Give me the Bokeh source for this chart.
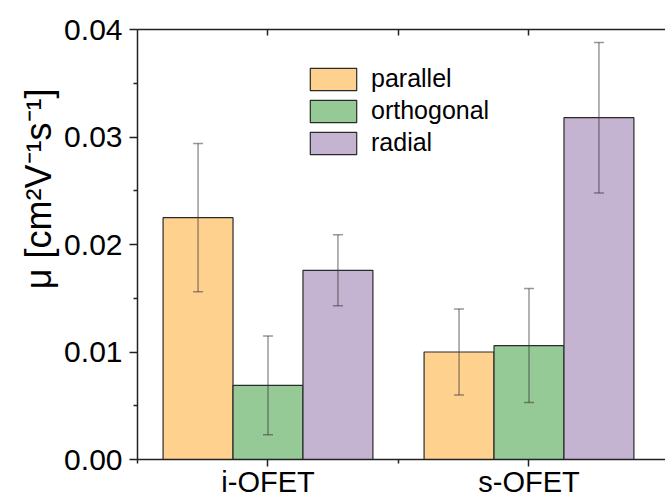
import numpy as np
from bokeh.plotting import figure
from bokeh.models import (ColumnDataSource, FixedTicker, LinearAxis, Whisker, TeeHead,
                          Legend, LegendItem, Range1d, PrintfTickFormatter, Title)
from bokeh.embed import file_html
from bokeh.resources import INLINE

devices = ["i-OFET", "s-OFET"]
orientations = ["parallel", "orthogonal", "radial"]
colors = ["#FFD18F", "#95C995", "#C4B3D1"]
mean_parallel = [0.0225, 0.0100]
mean_orthogonal = [0.0069, 0.0106]
mean_radial = [0.0176, 0.0318]
err_parallel = [0.0069, 0.0040]
err_orthogonal = [0.0046, 0.0053]
err_radial = [0.0033, 0.0070]
y_ticks = [0.00, 0.01, 0.02, 0.03, 0.04]
y_minor = [0.005, 0.015, 0.025, 0.035]

FONT = "Liberation Sans"
means = [mean_parallel, mean_orthogonal, mean_radial]
errs = [err_parallel, err_orthogonal, err_radial]
bar_w = 0.268
offsets = [-bar_w, 0.0, bar_w]
centers = np.arange(1, len(devices) + 1)

p = figure(width=665, height=500, output_backend="svg", toolbar_location=None,
           x_range=Range1d(0.5, 2.523), y_range=Range1d(0, 0.04),
           min_border_left=137, min_border_top=29, min_border_bottom=39, min_border_right=0)
p.outline_line_color = None
p.xgrid.visible = False
p.ygrid.visible = False
p.background_fill_color = "white"
p.border_fill_color = "white"

items = []
for name, col, m, e, off in zip(orientations, colors, means, errs, offsets):
    xs = centers + off
    src = ColumnDataSource(dict(x=xs, top=m, upper=np.array(m) + np.array(e),
                                lower=np.array(m) - np.array(e)))
    r = p.vbar(x="x", top="top", width=bar_w, bottom=0, source=src,
               fill_color=col, line_color="#2a2a2a", line_width=1.2)
    items.append(LegendItem(label=name, renderers=[r]))
    w = Whisker(base="x", upper="upper", lower="lower", source=src, level="overlay",
                line_color="#333333", line_alpha=0.5, line_width=1.5,
                upper_head=TeeHead(size=10, line_color="#333333", line_alpha=0.5, line_width=1.5),
                lower_head=TeeHead(size=10, line_color="#333333", line_alpha=0.5, line_width=1.5))
    p.add_layout(w)

xt = FixedTicker(ticks=list(centers), minor_ticks=[0.5, 1.5])
yt = FixedTicker(ticks=y_ticks, minor_ticks=y_minor)

for ax in p.xaxis:
    ax.ticker = xt
    ax.major_label_overrides = {int(c): d for c, d in zip(centers, devices)}
    ax.major_label_text_font = FONT
    ax.major_label_text_font_size = "29px"
    ax.major_label_text_color = "black"
    ax.major_tick_out = 7
    ax.major_tick_in = 0
    ax.minor_tick_out = 4
    ax.minor_tick_in = 0
    ax.major_label_standoff = -1
    ax.axis_line_width = 1.5
    ax.major_tick_line_width = 1.5
    ax.minor_tick_line_width = 1.5
    ax.axis_line_color = "#222222"
    ax.major_tick_line_color = "#222222"
    ax.minor_tick_line_color = "#222222"

for ax in p.yaxis:
    ax.ticker = yt
    ax.formatter = PrintfTickFormatter(format="%.2f")
    ax.major_label_text_font = FONT
    ax.major_label_text_font_size = "30px"
    ax.major_label_text_color = "black"
    ax.major_tick_out = 8
    ax.major_tick_in = 0
    ax.minor_tick_out = 4
    ax.minor_tick_in = 0
    ax.major_label_standoff = 7
    ax.axis_line_width = 1.5
    ax.major_tick_line_width = 1.5
    ax.minor_tick_line_width = 1.5
    ax.axis_line_color = "#222222"
    ax.major_tick_line_color = "#222222"
    ax.minor_tick_line_color = "#222222"

# mirrored top frame line with inward ticks only (no labels)
top_ticker = FixedTicker(ticks=[], minor_ticks=[1.0, 1.5, 2.0])
top_ax = LinearAxis(ticker=top_ticker, major_tick_in=0, major_tick_out=0,
                    minor_tick_in=6, minor_tick_out=0,
                    axis_line_width=1.5, minor_tick_line_width=1.5,
                    axis_line_color="#222222", minor_tick_line_color="#222222")
p.add_layout(top_ax, "above")

ylab = Title(text="μ [cm²V⁻¹s⁻¹]", align="right", offset=59,
             text_font=FONT, text_font_size="36px", text_font_style="normal",
             text_color="black", standoff=6)
p.add_layout(ylab, "left")

legend = Legend(items=items, location=(167, 302), glyph_width=58, glyph_height=28,
                spacing=3, padding=0, margin=0, label_standoff=9,
                label_text_font=FONT, label_text_font_size="25px", label_text_color="black",
                border_line_color=None, background_fill_alpha=0)
p.add_layout(legend)

open("out.html", "w").write(file_html(p, INLINE))
